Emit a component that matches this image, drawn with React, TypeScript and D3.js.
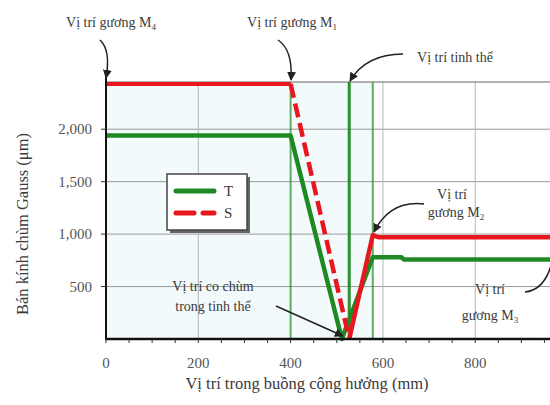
import React, { useEffect, useRef } from 'react';
import * as d3 from 'd3';

// Dữ liệu
const tPoints: [number, number][] = [
  [0, 1940], [400, 1940], [511, 0], [578, 780], [640, 780], [645, 758], [962, 758],
];
const sFlat: [number, number][] = [[0, 2430], [400, 2430]];
const sDashed: [number, number][] = [[400, 2430], [527, 0]];
const sRise: [number, number][] = [[527, 0], [578, 990], [590, 970], [962, 970]];
const markerLines = [400, 527, 578];
const xTicks = [0, 200, 400, 600, 800];
const yTicks = [500, 1000, 1500, 2000];
const gridX = [200, 600, 800];

const GREEN = '#1f8a24';
const RED = '#e8161e';
const TEXT = '#3a3a3a';
const FONT = "'Liberation Serif', 'DejaVu Serif', serif";

export default function App() {
  const svgRef = useRef<SVGSVGElement>(null);

  useEffect(() => {
    if (!svgRef.current) return;
    const svg = d3.select(svgRef.current);
    svg.selectAll('*').remove();

    const x = d3.scaleLinear().domain([0, 962]).range([106, 550]);
    const y = d3.scaleLinear().domain([0, 2450]).range([339, 82]);

    const defs = svg.append('defs');
    defs.append('marker')
      .attr('id', 'arr')
      .attr('viewBox', '0 0 10 10')
      .attr('refX', 9).attr('refY', 5)
      .attr('markerWidth', 6).attr('markerHeight', 6)
      .attr('orient', 'auto-start-reverse')
      .append('path').attr('d', 'M0,0 L10,5 L0,10 z').attr('fill', '#222');

    svg.append('rect').attr('width', 550).attr('height', 405).attr('fill', '#fff');

    // nền xanh nhạt
    svg.append('rect')
      .attr('x', x(0)).attr('y', y(2450))
      .attr('width', x(578) - x(0)).attr('height', y(0) - y(2450))
      .attr('fill', '#f3fafc');

    // lưới
    yTicks.forEach(v => {
      svg.append('line')
        .attr('x1', x(0)).attr('x2', 550)
        .attr('y1', y(v)).attr('y2', y(v))
        .attr('stroke', '#9a9a9a').attr('stroke-width', 1);
    });
    gridX.forEach(v => {
      svg.append('line')
        .attr('x1', x(v)).attr('x2', x(v))
        .attr('y1', y(2450)).attr('y2', y(0))
        .attr('stroke', '#b5b5b5').attr('stroke-width', 1);
    });
    svg.append('line')
      .attr('x1', x(0)).attr('x2', 550)
      .attr('y1', y(2450)).attr('y2', y(2450))
      .attr('stroke', '#666').attr('stroke-width', 1.2);

    // đường đánh dấu vị trí
    markerLines.forEach((v, i) => {
      svg.append('line')
        .attr('x1', x(v)).attr('x2', x(v))
        .attr('y1', y(2450)).attr('y2', y(0))
        .attr('stroke', GREEN).attr('stroke-opacity', i === 1 ? 0.95 : 0.7)
        .attr('stroke-width', i === 1 ? 3 : 2);
    });

    const line = d3.line<[number, number]>().x(d => x(d[0])).y(d => y(d[1]));

    svg.append('path').datum(tPoints).attr('d', line)
      .attr('fill', 'none').attr('stroke', GREEN).attr('stroke-width', 4.5)
      .attr('stroke-linejoin', 'round');
    svg.append('path').datum(sFlat).attr('d', line)
      .attr('fill', 'none').attr('stroke', RED).attr('stroke-width', 4);
    svg.append('path').datum(sDashed).attr('d', line)
      .attr('fill', 'none').attr('stroke', RED).attr('stroke-width', 4.5)
      .attr('stroke-dasharray', '14,6');
    svg.append('path').datum(sRise).attr('d', line)
      .attr('fill', 'none').attr('stroke', RED).attr('stroke-width', 4.5)
      .attr('stroke-linejoin', 'round');

    // trục
    svg.append('line')
      .attr('x1', x(0)).attr('x2', x(0)).attr('y1', 76).attr('y2', y(0) + 1)
      .attr('stroke', '#111').attr('stroke-width', 2);
    svg.append('line')
      .attr('x1', x(0) - 1).attr('x2', 550).attr('y1', y(0)).attr('y2', y(0))
      .attr('stroke', '#111').attr('stroke-width', 2.5);

    d3.range(0, 962, 50).forEach(v => {
      svg.append('line')
        .attr('x1', x(v)).attr('x2', x(v)).attr('y1', y(0)).attr('y2', y(0) + 4)
        .attr('stroke', '#333').attr('stroke-width', 1);
    });
    yTicks.forEach(v => {
      svg.append('line')
        .attr('x1', x(0) - 5).attr('x2', x(0)).attr('y1', y(v)).attr('y2', y(v))
        .attr('stroke', '#333').attr('stroke-width', 1);
      svg.append('text')
        .attr('x', 92).attr('y', y(v) + 5)
        .attr('text-anchor', 'end')
        .style('font-family', FONT).attr('font-size', 15).attr('fill', '#555')
        .text(d3.format(',')(v));
    });
    xTicks.forEach(v => {
      svg.append('text')
        .attr('x', x(v)).attr('y', 368)
        .attr('text-anchor', 'middle')
        .style('font-family', FONT).attr('font-size', 15).attr('fill', '#555')
        .text(v);
    });

    svg.append('text')
      .attr('x', 307).attr('y', 389).attr('text-anchor', 'middle')
      .style('font-family', FONT).attr('font-size', 16.5).attr('fill', TEXT)
      .text('Vị trí trong buồng cộng hưởng (mm)');
    svg.append('text')
      .attr('transform', 'translate(28,224) rotate(-90)')
      .attr('text-anchor', 'middle')
      .style('font-family', FONT).attr('font-size', 16.5).attr('fill', TEXT)
      .text('Bán kính chùm Gauss (μm)');

    // chú giải
    svg.append('rect').attr('x', 170).attr('y', 177).attr('width', 80).attr('height', 56)
      .attr('fill', '#666');
    svg.append('rect').attr('x', 167).attr('y', 174).attr('width', 80).attr('height', 56)
      .attr('fill', '#fff').attr('stroke', '#444').attr('stroke-width', 1.5);
    svg.append('line').attr('x1', 176).attr('x2', 214).attr('y1', 191).attr('y2', 191)
      .attr('stroke', GREEN).attr('stroke-width', 5).attr('stroke-linecap', 'round');
    svg.append('line').attr('x1', 176).attr('x2', 214).attr('y1', 213).attr('y2', 213)
      .attr('stroke', RED).attr('stroke-width', 5).attr('stroke-linecap', 'round')
      .attr('stroke-dasharray', '18,9');
    [['T', 196], ['S', 218]].forEach(([t, yy]) => {
      svg.append('text').attr('x', 224).attr('y', yy as number)
        .style('font-family', FONT).attr('font-size', 15).attr('fill', TEXT)
        .text(t as string);
    });

    // chú thích
    const label = (cx: number, cy: number, main: string, sub?: string) => {
      const t = svg.append('text')
        .attr('x', cx).attr('y', cy).attr('text-anchor', 'middle')
        .style('font-family', FONT).attr('font-size', 14).attr('fill', TEXT);
      t.append('tspan').text(main);
      if (sub) {
        t.append('tspan').attr('font-size', 9).attr('dy', 3).text(sub);
      }
    };
    label(111, 27, 'Vị trí gương M', '4');
    label(292, 27, 'Vị trí gương M', '1');
    label(455, 62, 'Vị trí tinh thể');
    label(452, 199, 'Vị trí');
    label(456, 217, 'gương M', '2');
    label(490, 294, 'Vị trí');
    label(490, 320, 'gương M', '3');
    label(213, 291, 'Vị trí co chùm');
    label(213, 311, 'trong tinh thể');

    const arrows = [
      'M100,40 Q111,50 106,78',
      'M278,40 Q293,50 291,80',
      'M403,54 Q366,54 350,81',
      'M424,204 Q390,200 374,232',
      'M276,306 L343,336',
    ];
    arrows.forEach(d => {
      svg.append('path').attr('d', d)
        .attr('fill', 'none').attr('stroke', '#222').attr('stroke-width', 1.5)
        .attr('marker-end', 'url(#arr)');
    });
    svg.append('path').attr('d', 'M525,292 Q545,290 552,262')
      .attr('fill', 'none').attr('stroke', '#222').attr('stroke-width', 1.5);
  }, []);

  return (
    <svg
      ref={svgRef}
      width={550}
      height={405}
      style={{ position: 'fixed', left: 0, top: 0 }}
    />
  );
}
